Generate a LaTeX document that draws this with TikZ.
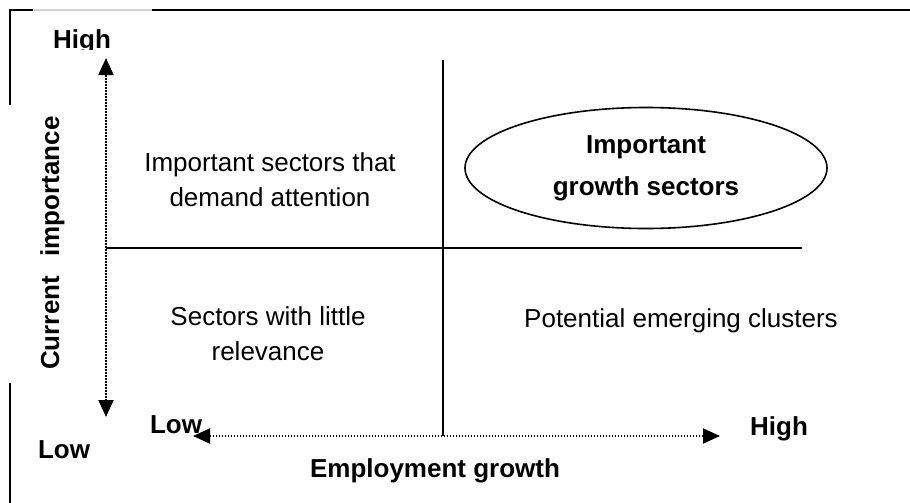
\documentclass[tikz,border=0pt]{standalone}
\usepackage{fontspec}
\setmainfont{Liberation Sans}
\usetikzlibrary{shapes,arrows,positioning,calc,arrows.meta}

\begin{document}
\begin{tikzpicture}[x=0.5pt,y=-0.5pt,
    every node/.style={inner sep=0pt,font=\fontsize{13}{17.5}\selectfont},
    axislabel/.style={font=\fontsize{13}{17.5}\selectfont\bfseries},
    quadtext/.style={align=center},
    dotarrow/.style={line width=1pt,dash pattern=on 0.7pt off 0.8pt,
        {Triangle[length=8.5pt,width=7.5pt]}-{Triangle[length=8.5pt,width=7.5pt]}},
    frameline/.style={line width=1pt}]
    \useasboundingbox (0,0) rectangle (910,503);

    % Frame, partly hidden behind the label boxes
    \draw[frameline] (10,105) -- (10,10) -- (33,10);
    \draw[frameline,gray!35] (33,10) -- (152,10);
    \draw[frameline] (152,10) -- (910,10);
    \draw[frameline] (10,383) -- (10,503);

    % Quadrant dividers
    \coordinate (midtop) at (443,60);
    \coordinate (midbot) at (443,436);
    \coordinate (divleft) at (106,248);
    \coordinate (divright) at (802,248);
    \draw[frameline] (midtop) -- (midbot);
    \draw[frameline] (divleft) -- (divright);

    % Axes
    \coordinate (imptop) at (106,58);
    \coordinate (impbot) at (106,417);
    \coordinate (empleft) at (193,436);
    \coordinate (empright) at (720,436);
    \draw[dotarrow] (impbot) -- (imptop);
    \draw[dotarrow] (empleft) -- (empright);

    % Axis labels
    \begin{scope}
        \clip (40,20) rectangle (130,49);
        \node[axislabel,anchor=base] (imphigh) at (82,48) {High};
    \end{scope}
    \node[axislabel,anchor=base] (implow) at (64,458) {Low};
    \node[axislabel,anchor=base,rotate=90] (impname) at (59,243) {Current\hspace{0.75em}importance};
    \node[axislabel,anchor=base] (emplow) at (176,433) {Low};
    \node[axislabel,anchor=base] (emphigh) at (779,435) {High};
    \node[axislabel,anchor=base] (empname) at (435,477) {Employment growth};

    % Quadrants
    \node[quadtext] (attention) at (270,180) {Important sectors that\\demand attention};
    \node[draw,ellipse,line width=0.8pt,minimum width=181pt,minimum height=60.5pt,
        font=\fontsize{13}{21}\selectfont\bfseries,align=center] (growth) at (646,168) {Important\\growth sectors};
    \node[quadtext] (little) at (268,334) {Sectors with little\\relevance};
    \node[anchor=base] (emerging) at (681,327) {Potential emerging clusters};
\end{tikzpicture}
\end{document}
